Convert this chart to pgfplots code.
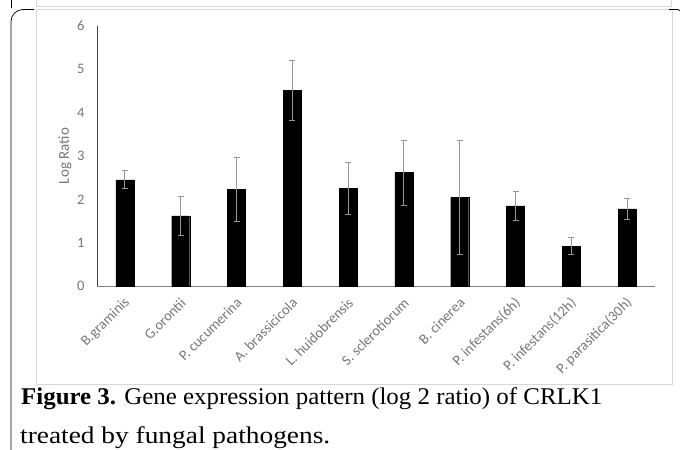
\documentclass[border=0pt]{standalone}
\usepackage{pgfplots}
\pgfplotsset{compat=1.18}
\usepackage{fontspec}
\usepackage{graphicx}
\setmainfont{Liberation Serif}
\newfontfamily\carlito{Carlito}
\definecolor{framegray}{RGB}{215,215,215}
\definecolor{labelgray}{RGB}{118,118,118}
\definecolor{errgray}{RGB}{150,150,150}

\begin{document}
\begin{tikzpicture}
\useasboundingbox (0,0) rectangle (680bp,-450bp);
% page frame around the figure
\draw[framegray, line width=0.8bp] (36bp,0) -- (36bp,-6bp) -- (671bp,-6bp) -- (671bp,0);
\draw[framegray, line width=0.8bp] (36bp,-9.5bp) rectangle (672bp,-384bp);
\draw[black, line width=0.7bp] (11bp,0) -- (11bp,-8bp);
\draw[black, line width=0.7bp, rounded corners=12bp] (11bp,-450bp) -- (11bp,-9.5bp) -- (34bp,-9.5bp);
\draw[black, line width=0.7bp] (669bp,-9.5bp) -- (678bp,-9.5bp) -- (680bp,-11bp);

\begin{axis}[
  scale only axis, width=558bp, height=260bp,
  at={(97bp,-286bp)}, anchor=south west,
  xmin=-0.5, xmax=9.5, ymin=0, ymax=6,
  axis x line=bottom, axis y line=left,
  axis line style={-},
  x axis line style={black!50, line width=0.9bp},
  y axis line style={black!75, line width=0.9bp},
  major tick length=0pt,
  xtick={0,...,9},
  xticklabels={B.graminis, G.orontii, P. cucumerina, A. brassicicola, L. huidobrensis, S. sclerotiorum, B. cinerea, P. infestans(6h), P. infestans(12h), P. parasitica(30h)},
  ytick={0,...,6},
  /pgf/number format/assume math mode=true,
  tick label style={font=\carlito\fontsize{14.5bp}{16bp}\selectfont, text=labelgray},
  yticklabel style={xshift=-9bp},
  xticklabel style={xshift=5bp, yshift=-12bp, rotate=45, anchor=east},
  ylabel={Log Ratio},
  ylabel style={font=\carlito\fontsize{15bp}{17bp}\selectfont, text=labelgray, at={(axis description cs:-0.0573,0.5)}, anchor=center},
]
\addplot[ybar, bar width=18bp, fill=black, draw=black,
  error bars/.cd, y dir=both, y explicit,
  error bar style={errgray, line width=0.9bp},
  error mark options={rotate=90, errgray, mark size=3bp, line width=0.9bp}]
  table[x=x, y=y, y error=e] {
x y e
0 2.45 0.21
1 1.62 0.45
2 2.23 0.73
3 4.52 0.69
4 2.25 0.61
5 2.62 0.75
6 2.04 1.32
7 1.85 0.33
8 0.92 0.19
9 1.78 0.25
};
\end{axis}

\node[anchor=base west, inner sep=0] at (21bp,-404bp) {\resizebox{581bp}{\height}{\fontsize{24bp}{26bp}\selectfont\textbf{Figure 3.} Gene expression pattern (log 2 ratio) of CRLK1}};
\node[anchor=base west, inner sep=0] at (20bp,-443bp) {\resizebox{310bp}{\height}{\fontsize{24bp}{26bp}\selectfont treated by fungal pathogens.}};
\end{tikzpicture}
\end{document}
